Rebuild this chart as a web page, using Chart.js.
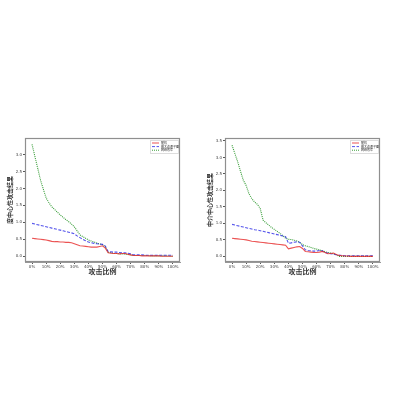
<!DOCTYPE html>
<html><head><meta charset="utf-8">
<script src="https://cdn.jsdelivr.net/npm/chart.js@4.4.1/dist/chart.umd.min.js"></script>
<style>
html,body{margin:0;padding:0;background:#fff;width:400px;height:400px;overflow:hidden}
.c{position:absolute;top:120px;width:200px;height:160px}
</style></head><body>
<div class="c" style="left:0"><canvas id="a" width="200" height="160"></canvas></div>
<div class="c" style="left:200px"><canvas id="b" width="200" height="160"></canvas></div>
<script>
const xPercent = [0,2,4,6,8,10,12,14,16,18,20,22,24,26,28,30,32,34,36,38,40,42,44,46,48,50,52,54,56,58,60,62,64,66,68,70,72,74,76,78,80,82,84,86,88,90,92,94,96,98,100];
const xTicks = [0,10,20,30,40,50,60,70,80,90,100];
const seriesNames = ["随机","最大连通子图","网络效率"];

// left: degree-centrality attack
const degRed = [0.53,0.52,0.51,0.50,0.49,0.48,0.46,0.44,0.43,0.43,0.42,0.42,0.41,0.41,0.40,0.37,0.34,0.31,0.30,0.29,0.28,0.27,0.27,0.27,0.29,0.31,0.24,0.10,0.09,0.08,0.08,0.07,0.08,0.08,0.06,0.04,0.02,0.02,0.02,0.01,0.01,0.01,0.01,0.01,0.01,0.01,0.00,0.00,0.00,0.00,0.00];
const degBlue = [0.97,0.95,0.93,0.91,0.89,0.87,0.85,0.83,0.81,0.79,0.77,0.75,0.73,0.71,0.69,0.66,0.60,0.55,0.50,0.46,0.42,0.40,0.38,0.37,0.36,0.35,0.30,0.14,0.13,0.12,0.12,0.11,0.10,0.10,0.09,0.07,0.04,0.04,0.04,0.04,0.03,0.03,0.03,0.03,0.03,0.03,0.03,0.03,0.03,0.03,0.03];
const degGreen = [3.30,2.95,2.60,2.25,1.98,1.72,1.58,1.46,1.38,1.30,1.22,1.15,1.08,1.02,0.95,0.87,0.75,0.63,0.58,0.53,0.48,0.45,0.42,0.39,0.36,0.34,0.28,0.12,0.10,0.08,0.08,0.07,0.07,0.06,0.05,0.04,0.02,0.02,0.02,0.02,0.02,0.02,0.01,0.01,0.01,0.01,0.01,0.01,0.01,0.00,0.00];

// right: betweenness-centrality attack
const btwRed = [0.55,0.54,0.53,0.52,0.51,0.50,0.48,0.46,0.45,0.44,0.43,0.42,0.41,0.40,0.39,0.38,0.37,0.36,0.35,0.34,0.23,0.25,0.27,0.29,0.30,0.24,0.15,0.14,0.13,0.12,0.12,0.13,0.15,0.12,0.08,0.09,0.10,0.06,0.03,0.02,0.01,0.01,0.00,0.00,0.00,0.00,0.00,0.00,0.00,0.00,0.00];
const btwBlue = [0.97,0.95,0.93,0.91,0.89,0.87,0.85,0.83,0.81,0.80,0.78,0.76,0.74,0.72,0.70,0.68,0.66,0.64,0.62,0.60,0.40,0.41,0.43,0.44,0.43,0.32,0.20,0.18,0.17,0.16,0.16,0.18,0.17,0.12,0.10,0.08,0.07,0.05,0.03,0.03,0.02,0.02,0.02,0.02,0.02,0.02,0.02,0.02,0.02,0.02,0.02];
const btwGreen = [3.37,3.12,2.87,2.58,2.31,2.15,1.90,1.75,1.65,1.58,1.45,1.10,1.02,0.95,0.88,0.82,0.76,0.70,0.63,0.55,0.52,0.51,0.49,0.47,0.42,0.36,0.32,0.30,0.27,0.24,0.22,0.20,0.17,0.14,0.12,0.10,0.08,0.05,0.00,0.00,0.00,0.00,0.00,0.00,0.00,0.00,0.00,0.00,0.00,0.00,0.00];

const yTicks = [0,0.5,1.0,1.5,2.0,2.5,3.0,3.5];

const framePlugin = {
  id:'frame',
  afterDatasetsDraw(chart){
    const a = chart.chartArea, ctx = chart.ctx;
    ctx.save();
    ctx.strokeStyle = '#8f8f8f'; ctx.lineWidth = 1.2;
    ctx.strokeRect(Math.round(a.left)+0.5, Math.round(a.top)+0.5, Math.round(a.right-a.left)-1, Math.round(a.bottom-a.top)-1);
    // legend inside top-right
    const w = 28, h = 13, x0 = a.right - w - 2, y0 = a.top + 2;
    ctx.fillStyle = 'rgba(255,255,255,0.85)';
    ctx.fillRect(x0, y0, w, h);
    ctx.lineWidth = 1;
    ctx.strokeStyle = '#ddd';
    ctx.strokeRect(x0+0.5, y0+0.5, w, h);
    chart.data.datasets.forEach((ds,i)=>{
      const yy = y0 + 3 + i*3.6;
      ctx.strokeStyle = ds.borderColor; ctx.lineWidth = 1;
      ctx.setLineDash(ds.borderDash || []);
      ctx.beginPath(); ctx.moveTo(x0+2, yy); ctx.lineTo(x0+9, yy); ctx.stroke();
      ctx.setLineDash([]);
      ctx.fillStyle = '#333';
      ctx.font = '3px "Noto Sans CJK SC"';
      ctx.textBaseline = 'middle';
      ctx.fillText(ds.label, x0+11, yy);
    });
    ctx.restore();
  }
};

function make(id, red, blue, green, yTitle, yMax){
  const mk = arr => xPercent.map((x,i)=>({x:x, y:arr[i]}));
  new Chart(document.getElementById(id), {
    type:'line',
    data:{datasets:[
      {label:seriesNames[0], data:mk(red), borderColor:'rgba(230,40,40,0.8)', borderWidth:1.1, pointRadius:0, tension:0},
      {label:seriesNames[1], data:mk(blue), borderColor:'rgba(40,40,230,0.8)', borderWidth:1.1, borderDash:[3,1.5], pointRadius:0, tension:0},
      {label:seriesNames[2], data:mk(green), borderColor:'rgba(20,140,20,0.85)', borderWidth:1.1, borderDash:[1,1], pointRadius:0, tension:0}
    ]},
    options:{
      responsive:false, animation:false, devicePixelRatio:1,
      layout:{padding:{left:6,right:20,top:18,bottom:4}},
      plugins:{legend:{display:false}, tooltip:{enabled:false}},
      scales:{
        x:{type:'linear', min:-5, max:105,
          afterBuildTicks(s){ s.ticks = xTicks.map(v=>({value:v})); },
          afterFit(s){ s.height = 14; },
          ticks:{callback:v=>v+'%', font:{size:4, family:'DejaVu Sans'}, color:'#444', maxRotation:0, padding:1, autoSkip:false},
          grid:{display:true, drawOnChartArea:false, drawTicks:true, tickLength:2, color:'#555'},
          border:{display:true, color:'#9a9a9a'},
          title:{display:true, text:'攻击比例', font:{size:7, family:'Noto Sans CJK SC', weight:'bold'}, color:'#333', padding:{top:0,bottom:0}}
        },
        y:{type:'linear', min:-0.17, max:yMax,
          afterBuildTicks(s){ s.ticks = yTicks.filter(v=>v<=yMax).map(v=>({value:v})); },
          afterFit(s){ s.width = 19; },
          ticks:{callback:v=>v.toFixed(1), font:{size:4, family:'DejaVu Sans'}, color:'#444', padding:1, autoSkip:false},
          grid:{display:true, drawOnChartArea:false, drawTicks:true, tickLength:2, color:'#555'},
          border:{display:true, color:'#9a9a9a'},
          title:{display:true, text:yTitle, font:{size:6, family:'Noto Sans CJK SC', weight:'bold'}, color:'#333', padding:{top:0,bottom:0}}
        }
      }
    },
    plugins:[framePlugin]
  });
}
make('a', degRed, degBlue, degGreen, '度中心性攻击结果', 3.49);
make('b', btwRed, btwBlue, btwGreen, '中介中心性攻击结果', 3.59);
</script>
</body></html>
